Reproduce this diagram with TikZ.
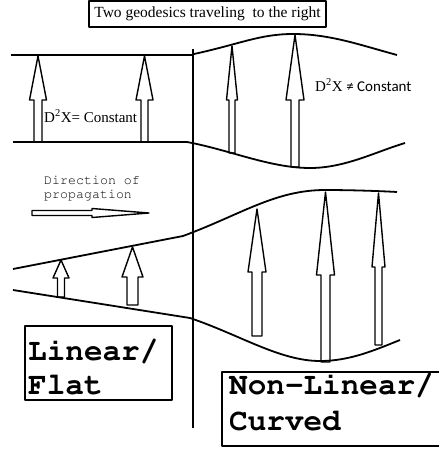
\documentclass[tikz,border=0pt]{standalone}
\usepackage[T1,TU]{fontenc}
\usepackage{fontspec}
\setmainfont{Liberation Serif}
\newfontfamily\carl{Carlito}
\newcommand\courfont{\fontencoding{T1}\fontfamily{pcr}\selectfont}
\newcommand\hollowarrow[6]{% x, tip, headbase, bottom, halfhead, halfshaft
  \draw[harrow] ({#1-#6},#4) -- ({#1-#6},#3) -- ({#1-#5},#3) -- (#1,#2) -- ({#1+#5},#3) -- ({#1+#6},#3) -- ({#1+#6},#4) -- cycle;}
\begin{document}
\begin{tikzpicture}[x=1pt,y=-1pt,line join=round,
  ln/.style={line width=1.8pt},
  harrow/.style={draw,line width=1.4pt,fill=white},
  bigtxt/.style={anchor=base west,inner sep=0pt,font=\courfont\bfseries\fontsize{31}{33}\selectfont}]
\useasboundingbox (0,0) rectangle (439,450);
\fill[white] (0,0) rectangle (439,450);
% arrows
\hollowarrow{38}{56}{100}{142}{8.5}{4}
\hollowarrow{144.5}{56}{100}{142}{8.5}{3.5}
\hollowarrow{232}{46}{100}{153}{5.5}{3}
\hollowarrow{295}{35}{100}{167}{9}{4}
\hollowarrow{61}{260}{278}{297}{8}{3.5}
\hollowarrow{132.5}{247}{277}{305}{10.5}{5.5}
\hollowarrow{257}{209}{272}{336}{9}{5}
\hollowarrow{325.5}{192}{275}{362}{9}{4.5}
\hollowarrow{378.5}{193}{267}{345}{6.5}{3.5}
% direction arrow
\draw[harrow] (32,210.5) -- (92,210.5) -- (92,208.5) -- (149,213) -- (92,217.5) -- (92,215.5) -- (32,215.5) -- cycle;
% divider
\draw[ln] (193,49) -- (193,428);
% upper band
\draw[ln] (11,55) -- (193,55);
\draw[ln] (13,142) -- (187,142);
\draw[ln] (194,54) .. controls (240,44) and (260,34) .. (293,34) .. controls (330,34) and (360,45) .. (397,55);
\draw[ln] (187,142) .. controls (230,150) and (270,168) .. (310,168) .. controls (345,168) and (375,152) .. (405,143);
% lower band
\draw[ln] (13,269) -- (183,236) .. controls (240,215) and (275,190) .. (325,190) .. controls (350,190) and (380,191) .. (397,192);
\draw[ln] (13,290) -- (190,318) .. controls (240,335) and (280,361) .. (320,361) .. controls (350,361) and (375,350) .. (400,340);
% texts
\node[draw,line width=1.8pt,minimum width=237pt,minimum height=26pt,inner sep=0pt] (title) at (207.5,14)
  {\fontsize{15.5}{17}\selectfont Two geodesics traveling\ \ to the right};
\node[anchor=west,inner sep=0pt,font=\fontsize{15}{17}\selectfont] (eqc) at (44,116) {D\textsuperscript{2}X= Constant};
\node[anchor=west,inner sep=0pt,font=\fontsize{15}{17}\selectfont] (neqc) at (315,85) {D\textsuperscript{2}X {\carl ≠ Constant}};
\node[anchor=base west,inner sep=0pt,font=\courfont\fontsize{13.3}{15}\selectfont] (dir1) at (44,184) {Direction of};
\node[anchor=base west,inner sep=0pt,font=\courfont\fontsize{13.3}{15}\selectfont] (dir2) at (44,198) {propagation};
\draw[line width=1.5pt] (25,326) rectangle (172,400);
\node[bigtxt] (lin1) at (28,360) {Linear/};
\node[bigtxt] (lin2) at (28,394) {Flat};
\draw[line width=1.5pt] (441,372) -- (222,372) -- (222,446) -- (441,446);
\node[bigtxt] (nl1) at (229,394) {Non-Linear/};
\node[bigtxt] (nl2) at (229,430) {Curved};
\end{tikzpicture}
\end{document}
